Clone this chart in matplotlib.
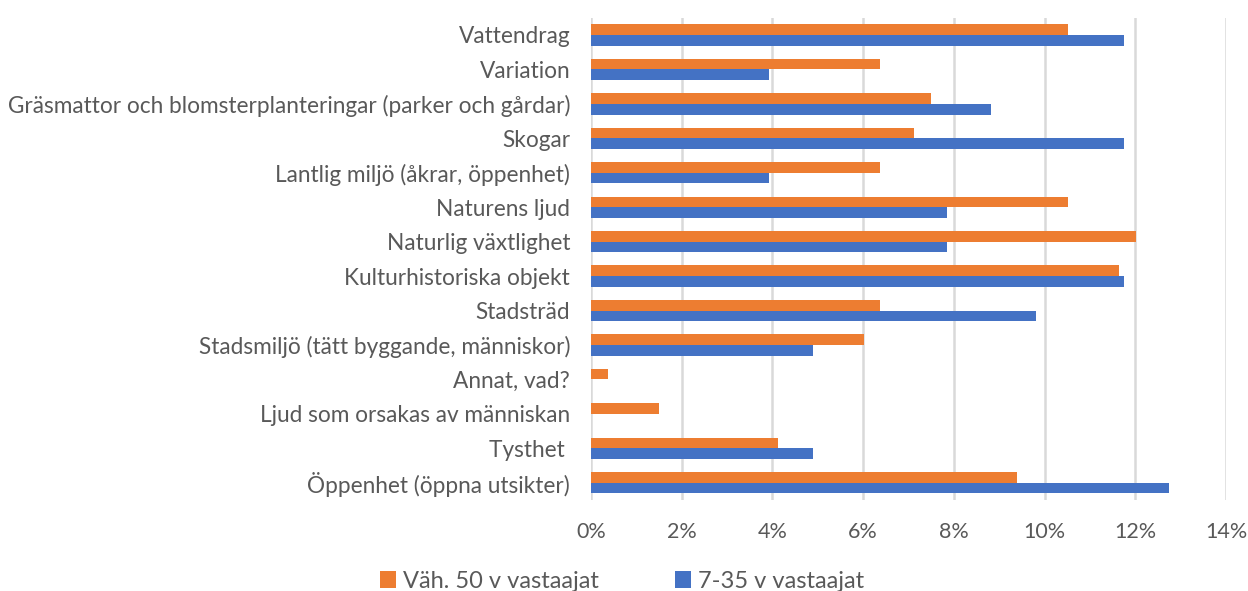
import matplotlib
matplotlib.use("Agg")
import matplotlib.pyplot as plt
import numpy as np
from matplotlib.ticker import PercentFormatter

categories = [
    "Vattendrag",
    "Variation",
    "Gräsmattor och blomsterplanteringar (parker och gårdar)",
    "Skogar",
    "Lantlig miljö (åkrar, öppenhet)",
    "Naturens ljud",
    "Naturlig växtlighet",
    "Kulturhistoriska objekt",
    "Stadsträd",
    "Stadsmiljö (tätt byggande, människor)",
    "Annat, vad?",
    "Ljud som orsakas av människan",
    "Tysthet ",
    "Öppenhet (öppna utsikter)",
]
orange_vals = [10.52, 6.38, 7.50, 7.13, 6.38, 10.52, 12.02, 11.64, 6.38, 6.01, 0.37, 1.50, 4.13, 9.39]
blue_vals = [11.75, 3.92, 8.82, 11.75, 3.92, 7.84, 7.84, 11.75, 9.80, 4.90, 0.0, 0.0, 4.90, 12.75]
series_names = ["Väh. 50 v vastaajat", "7-35 v vastaajat"]
xticks = [0, 2, 4, 6, 8, 10, 12, 14]

ORANGE = "#ED7D31"
BLUE = "#4472C4"
TEXT = "#595959"
GRID = "#D9D9D9"

plt.rcParams["font.family"] = ["Lato", "DejaVu Sans"]

fig = plt.figure(figsize=(12.48, 5.91), dpi=100)
ax = fig.add_axes([591 / 1248, 1 - 500 / 591, (1226 - 591) / 1248, (500 - 17.75) / 591])

n = len(categories)
y = np.arange(n)
h = 0.31
ax.barh(y - h / 2, orange_vals, height=h, color=ORANGE, label=series_names[0], zorder=3)
ax.barh(y + h / 2, blue_vals, height=h, color=BLUE, label=series_names[1], zorder=3)

ax.set_ylim(n - 0.5, -0.5)
ax.set_xlim(0, 14)
ax.set_yticks(y)
ax.set_yticklabels(categories, fontsize=16.3, color=TEXT)
ax.set_xticks(xticks)
ax.xaxis.set_major_formatter(PercentFormatter(decimals=0))
ax.tick_params(axis="x", labelsize=15.5, labelcolor=TEXT, length=0, pad=16)
ax.tick_params(axis="y", length=0, pad=15)
ax.grid(axis="x", color=GRID, linewidth=1.8, zorder=0)
for s in ax.spines.values():
    s.set_visible(False)

leg = fig.legend(loc="center", bbox_to_anchor=(622 / 1248, 1 - 581 / 591), ncol=2, frameon=False,
                 fontsize=17, handlelength=0.7, handleheight=0.7, handletextpad=0.3,
                 columnspacing=3.2, labelcolor=TEXT)

fig.savefig("out.png", dpi=100)
